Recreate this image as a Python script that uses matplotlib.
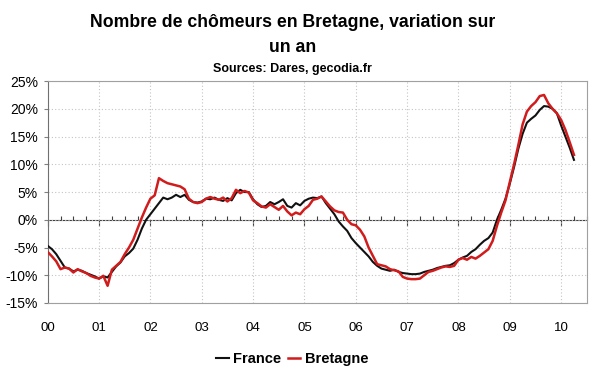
import matplotlib
matplotlib.use("Agg")
import matplotlib.pyplot as plt
import numpy as np
from matplotlib.ticker import MultipleLocator

plt.rcParams['font.family'] = ['Liberation Sans', 'DejaVu Sans']

title_line1 = "Nombre de chômeurs en Bretagne, variation sur"
title_line2 = "un an"
subtitle = "Sources: Dares, gecodia.fr"

year_labels = ["00", "01", "02", "03", "04", "05", "06", "07", "08", "09", "10"]
y_ticks = [-15, -10, -5, 0, 5, 10, 15, 20, 25]
y_tick_labels = ["-15%", "-10%", "-5%", "0%", "5%", "10%", "15%", "20%", "25%"]

# Monthly year-on-year change (%), Jan 2000 .. Apr 2010
france = [
    -4.7, -5.3, -6.2, -7.4, -8.6, -8.8, -9.3, -9.0, -9.2, -9.6, -9.9, -10.2,   # 2000
    -10.6, -10.2, -10.4, -9.4, -8.4, -7.7, -6.6, -6.0, -5.2, -3.6, -1.6, 0.0,  # 2001
    1.0, 2.0, 3.0, 4.0, 3.7, 4.0, 4.5, 4.1, 4.5, 3.6, 3.2, 3.1,                # 2002
    3.3, 3.8, 3.7, 4.0, 3.6, 3.4, 3.9, 3.5, 4.8, 5.4, 5.0, 5.0,                # 2003
    3.7, 2.8, 2.3, 2.5, 3.2, 2.8, 3.2, 3.7, 2.5, 2.2, 3.0, 2.6,                # 2004
    3.4, 3.8, 4.0, 3.9, 4.2, 3.0, 2.0, 1.0, -0.3, -1.2, -2.0, -3.3,            # 2005
    -4.2, -5.0, -5.8, -6.6, -7.6, -8.3, -8.8, -9.0, -9.2, -9.0, -9.4, -9.6,    # 2006
    -9.7, -9.8, -9.8, -9.7, -9.4, -9.2, -9.0, -8.7, -8.5, -8.3, -8.2, -7.8,    # 2007
    -7.2, -6.8, -6.5, -5.8, -5.3, -4.5, -3.8, -3.3, -2.3, 0.0, 1.8, 3.8,       # 2008
    6.5, 9.5, 12.8, 15.5, 17.5, 18.2, 18.8, 19.8, 20.5, 20.4, 20.0, 19.2,      # 2009
    17.0, 15.0, 13.0, 10.8,                                                    # 2010
]
bretagne = [
    -5.8, -6.6, -7.5, -8.9, -8.6, -8.8, -9.5, -8.9, -9.3, -9.6, -10.1, -10.4,  # 2000
    -10.6, -10.1, -11.9, -9.0, -8.3, -7.6, -6.2, -5.0, -3.6, -1.6, 0.4, 2.2,   # 2001
    3.8, 4.4, 7.5, 7.0, 6.6, 6.4, 6.2, 6.0, 5.5, 3.8, 3.2, 3.0,                # 2002
    3.2, 3.8, 4.1, 3.8, 3.6, 4.0, 3.3, 3.9, 5.4, 4.8, 5.2, 4.9,                # 2003
    3.5, 3.0, 2.4, 2.2, 2.8, 2.3, 1.8, 2.5, 1.5, 0.8, 1.3, 1.0,                # 2004
    1.9, 2.5, 3.6, 3.8, 4.2, 3.3, 2.4, 1.7, 1.4, 1.3, 0.0, -0.8,               # 2005
    -1.0, -1.8, -3.0, -5.0, -6.5, -8.0, -8.2, -8.4, -8.9, -9.1, -9.3, -10.3,   # 2006
    -10.6, -10.7, -10.7, -10.6, -10.0, -9.4, -9.2, -8.9, -8.6, -8.4, -8.5, -8.3,  # 2007
    -7.2, -6.9, -7.2, -6.7, -7.0, -6.5, -5.9, -5.3, -3.8, -1.1, 1.3, 3.5,      # 2008
    6.8, 10.0, 13.5, 17.2, 19.5, 20.5, 21.2, 22.3, 22.5, 21.0, 20.0, 19.2,     # 2009
    18.0, 16.2, 14.0, 11.7,                                                    # 2010
]
series_names = ["France", "Bretagne"]

months = np.arange(len(france)) / 12.0

fig = plt.figure(figsize=(6.0, 3.72), dpi=100)
fig.patch.set_facecolor("white")
ax = fig.add_axes([0.0795, 0.1855, 0.978 - 0.0795, 0.782 - 0.1855])

ax.plot(months, france, color="#111111", lw=1.5, label=series_names[0], zorder=3)
ax.plot(months, bretagne, color="#d01c1c", lw=1.8, label=series_names[1], zorder=4)

ax.set_xlim(0, 10.5)
ax.set_ylim(-15, 25)

ax.set_xticks(range(len(year_labels)))
ax.set_xticklabels(year_labels, fontsize=9.5)
ax.set_yticks(y_ticks)
ax.set_yticklabels(y_tick_labels, fontsize=10)
ax.grid(True, which="major", color="#c4c4c4", linestyle=(0, (1, 2)), linewidth=0.8)
ax.tick_params(axis="x", length=0, pad=14)
ax.tick_params(axis="y", length=3, width=0.8, color="#808080", pad=4)

for s in ["top", "right", "bottom"]:
    ax.spines[s].set_color("#a0a0a0")
    ax.spines[s].set_linewidth(0.8)
ax.spines["left"].set_color("#707070")
ax.spines["left"].set_linewidth(0.8)

# zero-line axis with ticks
zero_frac = (0 - (-15)) / (25 - (-15))
sec = ax.secondary_xaxis(zero_frac)
sec.set_xticks(range(len(year_labels)))
sec.xaxis.set_minor_locator(MultipleLocator(0.25))
sec.tick_params(axis="x", which="major", direction="out", length=4, width=0.8,
                color="#404040", labelbottom=False)
sec.tick_params(axis="x", which="minor", direction="in", length=3, width=0.8,
                color="#404040")
sec.spines["bottom"].set_color("#404040")
sec.spines["bottom"].set_linewidth(0.8)

# titles
fig.text(0.487, 0.928, title_line1, ha="center", va="baseline",
         fontsize=12.7, fontweight="bold")
fig.text(0.487, 0.861, title_line2, ha="center", va="baseline",
         fontsize=12.7, fontweight="bold")
fig.text(0.487, 0.807, subtitle, ha="center", va="baseline",
         fontsize=9, fontweight="bold")

leg = fig.legend(loc="center", bbox_to_anchor=(0.487, 0.036), ncol=2, frameon=False,
                 prop={"weight": "bold", "size": 10.5}, handlelength=0.85,
                 handletextpad=0.3, columnspacing=0.45, borderpad=0)

fig.savefig("out.png", dpi=100, facecolor="white")
